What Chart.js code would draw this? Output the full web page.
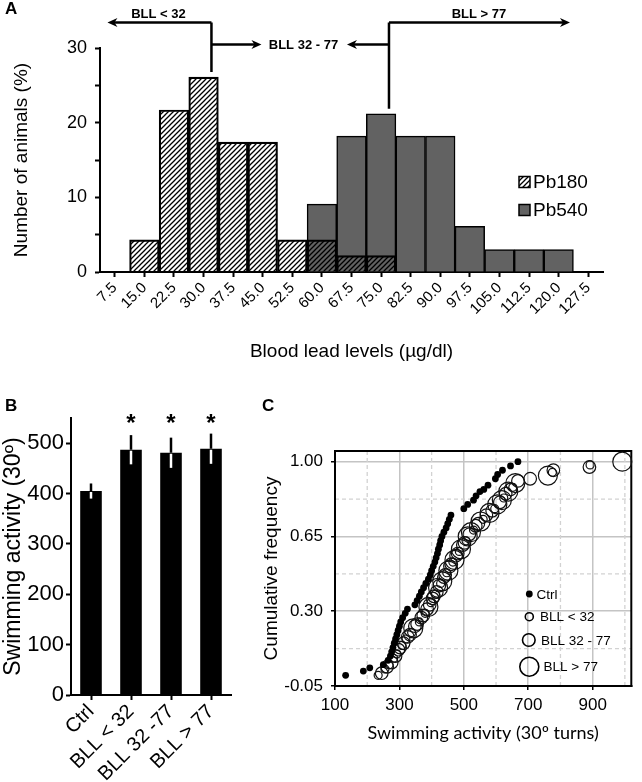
<!DOCTYPE html>
<html>
<head>
<meta charset="utf-8">
<title>Blood lead levels and swimming activity</title>
<script src="https://cdn.jsdelivr.net/npm/chart.js@4.4.1/dist/chart.umd.min.js"></script>
<style>
  body { margin: 0; background: #fff; width: 642px; height: 782px; position: relative; overflow: hidden; }
  canvas { position: absolute; }
  .tag { position: absolute; font: bold 17px "Liberation Sans", Arial, sans-serif; }
</style>
</head>
<body>
<canvas id="chartA" width="642" height="370" style="left:0;top:0"></canvas>
<canvas id="chartB" width="260" height="392" style="left:0;top:390px"></canvas>
<canvas id="chartC" width="382" height="392" style="left:260px;top:390px"></canvas>
<div class="tag" style="left:5px;top:-1px">A</div>
<div class="tag" style="left:5px;top:396px">B</div>
<div class="tag" style="left:262px;top:396px">C</div>
<script>
// A: distribution of blood lead levels (% of animals per bin)
const bins = ['7.5', '15.0', '22.5', '30.0', '37.5', '45.0', '52.5', '60.0', '67.5',
  '75.0', '82.5', '90.0', '97.5', '105.0', '112.5', '120.0', '127.5']
const pb180 = [0, 4.3, 21.7, 26.1, 17.4, 17.4, 4.3, 4.3, 2.2, 2.2, 0, 0, 0, 0, 0, 0, 0]
const pb540 = [0, 0, 0, 0, 0, 0, 0, 9.1, 18.2, 21.2, 18.2, 18.2, 6.1, 3.0, 3.0, 3.0, 0]
const cutoffs = [32, 77]

// B: mean swimming activity per group
const groups = ['Ctrl', 'BLL < 32', 'BLL 32 -77', 'BLL > 77']
const swimMean = [405, 487, 481, 489]
const swimErr = [15, 29, 30, 30]
const signif = [false, true, true, true]

// C: cumulative frequency of swimming activity
const ctrlCum = [[133, 0.00], [188, 0.02], [208, 0.035], [250, 0.05], [265, 0.07], [272, 0.09],
  [276, 0.11], [280, 0.13], [284, 0.15], [288, 0.17], [292, 0.19], [296, 0.21], [300, 0.23],
  [304, 0.25], [310, 0.27], [318, 0.29], [325, 0.31], [348, 0.33], [355, 0.35], [362, 0.37],
  [368, 0.39], [375, 0.41], [382, 0.43], [390, 0.45], [396, 0.47], [400, 0.49], [405, 0.51],
  [410, 0.53], [414, 0.55], [418, 0.57], [421, 0.59], [425, 0.61], [428, 0.63], [432, 0.65],
  [438, 0.67], [445, 0.69], [450, 0.71], [455, 0.73], [460, 0.75], [500, 0.78], [512, 0.80],
  [530, 0.82], [538, 0.84], [550, 0.86], [562, 0.87], [575, 0.89], [598, 0.92], [605, 0.94],
  [620, 0.96], [645, 0.98], [668, 1.00]]
const lowCum = [[234, 0.00], [255, 0.03], [268, 0.05], [282, 0.08], [292, 0.10], [308, 0.14],
  [320, 0.17], [338, 0.20], [362, 0.25], [380, 0.29], [398, 0.34], [412, 0.38], [428, 0.43],
  [447, 0.48], [466, 0.53], [486, 0.58], [507, 0.63], [530, 0.68], [560, 0.73], [596, 0.78],
  [624, 0.83], [652, 0.88], [775, 0.95], [892, 0.985]]
const midCum = [[245, 0.01], [262, 0.04], [276, 0.06], [288, 0.09], [297, 0.12], [302, 0.13],
  [313, 0.15], [326, 0.18], [333, 0.19], [348, 0.23], [355, 0.24], [368, 0.27], [374, 0.28],
  [386, 0.31], [394, 0.33], [403, 0.36], [407, 0.37], [416, 0.39], [424, 0.42], [438, 0.46],
  [442, 0.47], [457, 0.51], [461, 0.52], [476, 0.56], [481, 0.57], [497, 0.61], [502, 0.62],
  [517, 0.66], [537, 0.70], [545, 0.71], [570, 0.75], [588, 0.77], [612, 0.81], [630, 0.85],
  [645, 0.87], [668, 0.91], [706, 0.92], [778, 0.96], [890, 0.975]]
const highCum = [[343, 0.22], [390, 0.32], [420, 0.41], [433, 0.44], [452, 0.49], [471, 0.54],
  [491, 0.59], [512, 0.65], [522, 0.67], [552, 0.72], [580, 0.76], [604, 0.80], [618, 0.82],
  [638, 0.86], [660, 0.90], [761, 0.935], [992, 1.00]]
const xTicksC = [100, 300, 500, 700, 900]
const xMinorC = [200, 400, 600, 800, 1000]
const yTicksC = [-0.05, 0.30, 0.65, 1.00]
const yMinorC = [0.125, 0.475, 0.825]

Chart.defaults.font.family = '"Liberation Sans", Arial, sans-serif'
Chart.defaults.color = '#000'
Chart.defaults.animation = false
Chart.defaults.responsive = false
Chart.defaults.devicePixelRatio = 1
Chart.defaults.events = []
Chart.defaults.plugins.legend.display = false
Chart.defaults.plugins.tooltip.enabled = false

const grey = '#626262'

function hatch (ctx) {
  const t = document.createElement('canvas')
  t.width = t.height = 5
  const g = t.getContext('2d')
  g.strokeStyle = '#000'
  g.lineWidth = 1.3
  g.beginPath()
  g.moveTo(-1, 6); g.lineTo(6, -1)
  g.moveTo(-1, 1); g.lineTo(1, -1)
  g.moveTo(4, 6); g.lineTo(6, 4)
  g.stroke()
  return ctx.createPattern(t, 'repeat')
}

function arrow (ctx, x1, y, x2) {
  const d = Math.sign(x2 - x1)
  ctx.beginPath()
  ctx.moveTo(x1, y)
  ctx.lineTo(x2 - d * 6, y)
  ctx.stroke()
  ctx.beginPath()
  ctx.moveTo(x2, y)
  ctx.lineTo(x2 - d * 10, y - 4.5)
  ctx.lineTo(x2 - d * 7, y)
  ctx.lineTo(x2 - d * 10, y + 4.5)
  ctx.closePath()
  ctx.fill()
}

const axisLine = { display: true, color: '#000', width: 2 }
const tickMarks = { display: true, drawOnChartArea: false, tickLength: 5, tickWidth: 2, tickColor: '#000' }

// ---------- A ----------
const ctxA = document.getElementById('chartA').getContext('2d')
const stripes = hatch(ctxA)

const annotA = {
  id: 'annotA',
  afterDraw (chart) {
    const { ctx, scales: { x, y } } = chart
    const px = v => x.getPixelForValue((v - 7.5) / 7.5)
    const top = v => {
      const i = Math.round((v - 7.5) / 7.5)
      return y.getPixelForValue(Math.max(pb180[i], pb540[i])) - 5
    }
    const a = px(cutoffs[0])
    const b = px(cutoffs[1])
    const yHi = 22.5
    const yMid = 44.5
    ctx.save()
    ctx.strokeStyle = ctx.fillStyle = '#000'
    ctx.lineWidth = 2.5
    ctx.beginPath()
    ctx.moveTo(a, yHi); ctx.lineTo(a, top(cutoffs[0]))
    ctx.moveTo(b, yHi); ctx.lineTo(b, top(cutoffs[1]))
    ctx.stroke()
    arrow(ctx, a, yHi, a - 104)
    arrow(ctx, a, yMid, a + 50)
    arrow(ctx, b, yMid, b - 42)
    arrow(ctx, b, yHi, b + 181)
    ctx.font = 'bold 13px "Liberation Sans", Arial, sans-serif'
    ctx.textAlign = 'center'
    ctx.textBaseline = 'middle'
    ctx.fillText('BLL < ' + cutoffs[0], a - 53, 14)
    ctx.fillText('BLL ' + cutoffs[0] + ' - ' + cutoffs[1], a + 92, 45)
    ctx.fillText('BLL > ' + cutoffs[1], b + 90, 14)

    // legend
    const items = [[chart.data.datasets[0].label, stripes, 182], [chart.data.datasets[1].label, grey, 210]]
    ctx.font = '19px "Liberation Sans", Arial, sans-serif'
    ctx.textAlign = 'left'
    ctx.lineWidth = 1.5
    items.forEach(([txt, fill, cy]) => {
      ctx.fillStyle = fill
      ctx.fillRect(519, cy - 5.5, 11, 11)
      ctx.strokeRect(519, cy - 5.5, 11, 11)
      ctx.fillStyle = '#000'
      ctx.fillText(txt, 533, cy + 1)
    })
    ctx.restore()
  }
}

new Chart(ctxA, {
  type: 'bar',
  data: {
    labels: bins,
    datasets: [
      {
        label: 'Pb180',
        data: pb180,
        backgroundColor: stripes,
        borderColor: '#000',
        borderWidth: 1.5,
        grouped: false,
        barPercentage: 1,
        categoryPercentage: 1
      },
      {
        label: 'Pb540',
        data: pb540,
        backgroundColor: grey,
        borderColor: '#000',
        borderWidth: 1.5,
        grouped: false,
        barPercentage: 1,
        categoryPercentage: 1
      }
    ]
  },
  options: {
    layout: { padding: { top: 48, right: 39, left: 0, bottom: 0 } },
    scales: {
      x: {
        offset: true,
        grid: { ...tickMarks, offset: false },
        border: axisLine,
        ticks: { minRotation: 45, maxRotation: 45, autoSkip: false, padding: 2, font: { size: 15 } },
        title: { display: true, text: 'Blood lead levels (µg/dl)', font: { size: 19 }, padding: { top: 0, bottom: 7 } },
        afterFit: s => { s.height = 98 }
      },
      y: {
        min: 0,
        max: 30,
        grid: tickMarks,
        border: axisLine,
        ticks: { stepSize: 5, padding: 8, font: { size: 18 }, callback: v => (v % 10 === 0 ? v : '') },
        title: { display: true, text: 'Number of animals (%)', font: { size: 19 }, padding: { top: 10, bottom: 0 } },
        afterFit: s => { s.width = 100 }
      }
    }
  },
  plugins: [annotA]
})

// ---------- B ----------
const errB = {
  id: 'errB',
  afterDatasetsDraw (chart) {
    const { ctx, scales: { y } } = chart
    const bars = chart.getDatasetMeta(0).data
    ctx.save()
    ctx.lineWidth = 2.5
    bars.forEach((bar, i) => {
      const yv = y.getPixelForValue(swimMean[i])
      ctx.strokeStyle = '#000'
      ctx.beginPath()
      ctx.moveTo(bar.x, yv); ctx.lineTo(bar.x, y.getPixelForValue(swimMean[i] + swimErr[i]))
      ctx.stroke()
      ctx.strokeStyle = '#fff'
      ctx.beginPath()
      ctx.moveTo(bar.x, yv + 1); ctx.lineTo(bar.x, y.getPixelForValue(swimMean[i] - swimErr[i]))
      ctx.stroke()
      if (signif[i]) {
        ctx.fillStyle = '#000'
        ctx.font = 'bold 24px "Liberation Sans", Arial, sans-serif'
        ctx.textAlign = 'center'
        ctx.textBaseline = 'middle'
        ctx.fillText('*', bar.x, y.getPixelForValue(548) + 5)
      }
    })
    ctx.restore()
  }
}

new Chart(document.getElementById('chartB'), {
  type: 'bar',
  data: {
    labels: groups,
    datasets: [{
      data: swimMean,
      backgroundColor: '#000',
      barPercentage: 0.54,
      categoryPercentage: 1
    }]
  },
  options: {
    layout: { padding: { top: 28, right: 29, left: 0, bottom: 0 } },
    scales: {
      x: {
        grid: { ...tickMarks, offset: false },
        border: axisLine,
        ticks: { minRotation: 45, maxRotation: 45, autoSkip: false, padding: 0, font: { size: 20 } },
        afterFit: s => { s.height = 87 }
      },
      y: {
        min: 0,
        max: 550,
        grid: tickMarks,
        border: axisLine,
        ticks: { stepSize: 50, padding: 2, font: { size: 22 }, callback: v => (v % 100 === 0 ? v : '') },
        title: { display: true, text: 'Swimming activity (30º)', font: { size: 23 }, padding: { top: 0, bottom: 0 } },
        afterFit: s => { s.width = 71 }
      }
    }
  },
  plugins: [errB]
})

// ---------- C ----------
const frameC = {
  id: 'frameC',
  beforeDatasetsDraw (chart) {
    const { ctx, chartArea: ca, scales: { x, y } } = chart
    ctx.save()
    ctx.strokeStyle = '#d2d2d2'
    ctx.lineWidth = 1.3
    ctx.setLineDash([4, 3])
    ctx.beginPath()
    xMinorC.forEach(v => {
      const p = x.getPixelForValue(v)
      ctx.moveTo(p, ca.top); ctx.lineTo(p, ca.bottom)
    })
    yMinorC.forEach(v => {
      const p = y.getPixelForValue(v)
      ctx.moveTo(ca.left, p); ctx.lineTo(ca.right, p)
    })
    ctx.stroke()
    ctx.setLineDash([])
    ctx.strokeStyle = '#000'
    ctx.lineWidth = 2
    ctx.strokeRect(ca.left, ca.top, ca.right - ca.left, ca.bottom - ca.top)
    ctx.restore()
  },
  afterDraw (chart) {
    const { ctx } = chart
    const ds = chart.data.datasets
    const rows = [[ds[0], 269.3, 204, 276.5], [ds[1], 269.3, 226.7, 280], [ds[2], 268.8, 250, 281], [ds[3], 269.3, 276.7, 283.5]]
    ctx.save()
    ctx.font = '13.5px "Liberation Sans", Arial, sans-serif'
    ctx.textBaseline = 'middle'
    rows.forEach(([d, mx, my, tx]) => {
      ctx.beginPath()
      ctx.arc(mx, my, d.pointRadius, 0, Math.PI * 2)
      if (d.pointBackgroundColor === '#000') {
        ctx.fillStyle = '#000'
        ctx.fill()
      } else {
        ctx.lineWidth = d.pointBorderWidth + 0.4
        ctx.strokeStyle = '#000'
        ctx.stroke()
      }
      ctx.fillStyle = '#000'
      ctx.fillText(d.label, tx, my + 1)
    })
    ctx.restore()
  }
}

const pts = arr => arr.map(([x, y]) => ({ x, y }))
const ring = (label, arr, r) => ({
  label,
  data: pts(arr),
  pointRadius: r,
  pointBackgroundColor: 'rgba(0,0,0,0)',
  pointBorderColor: '#111',
  pointBorderWidth: 1.2,
  clip: false
})

new Chart(document.getElementById('chartC'), {
  type: 'scatter',
  data: {
    datasets: [
      { label: 'Ctrl', data: pts(ctrlCum), pointRadius: 3.4, pointBackgroundColor: '#000', pointBorderColor: '#000', pointBorderWidth: 0, clip: false },
      ring('BLL < 32', lowCum, 4),
      ring('BLL 32 - 77', midCum, 6.3),
      ring('BLL > 77', highCum, 9.5)
    ]
  },
  options: {
    layout: { padding: { top: 61, right: 3, left: 0, bottom: 0 } },
    scales: {
      x: {
        type: 'linear',
        min: 100,
        max: 1020,
        afterBuildTicks: s => { s.ticks = xTicksC.map(v => ({ value: v })) },
        grid: { color: '#c4c4c4', lineWidth: 1.5, tickLength: 4, tickColor: '#000', tickWidth: 1.5 },
        border: axisLine,
        ticks: { padding: 5, font: { size: 17 } },
        title: { display: true, text: 'Swimming activity (30º turns)', font: { family: 'Lato', size: 18 }, padding: { top: 0, bottom: 38 } },
        afterFit: s => { s.height = 96 }
      },
      y: {
        min: -0.05,
        max: 1.05,
        afterBuildTicks: s => { s.ticks = yTicksC.map(v => ({ value: v })) },
        grid: { color: '#c4c4c4', lineWidth: 1.5, tickLength: 4, tickColor: '#000', tickWidth: 1.5 },
        border: axisLine,
        ticks: { padding: 8, font: { size: 17 }, callback: v => v.toFixed(2) },
        title: { display: true, text: 'Cumulative frequency', font: { size: 19 }, padding: { top: 0, bottom: 0 } },
        afterFit: s => { s.width = 75 }
      }
    }
  },
  plugins: [frameC]
})
</script>
</body>
</html>
